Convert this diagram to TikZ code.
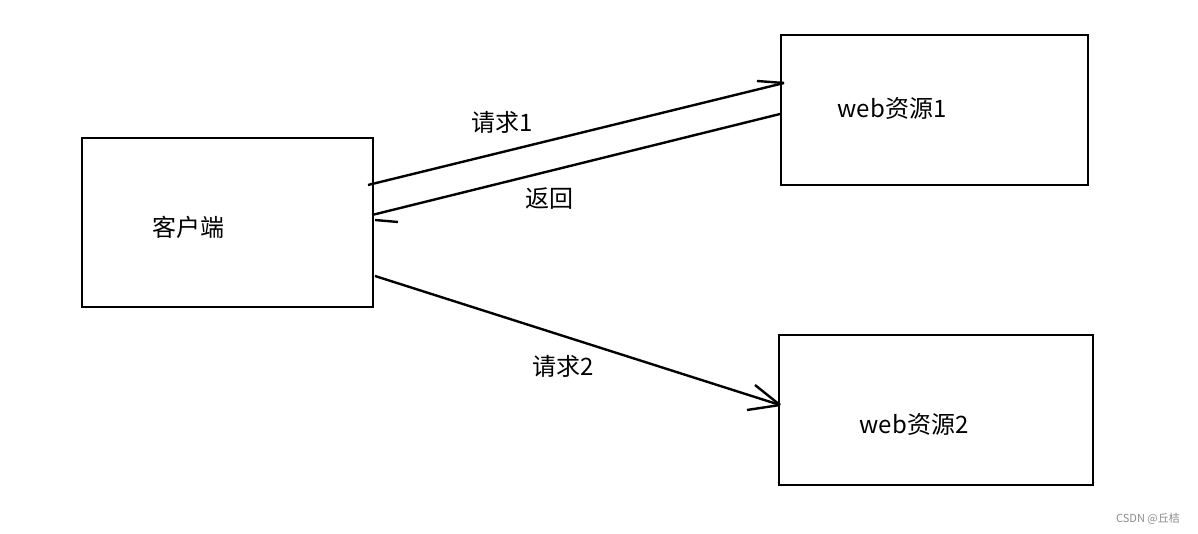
\documentclass[tikz,border=0pt]{standalone}
\usepackage{fontspec}
\newfontfamily\cjk{Noto Sans CJK SC}
\begin{document}
\begin{tikzpicture}[x=1pt,y=-1pt,
  box/.style={draw=black,line width=2.6pt},
  conn/.style={draw=black,line width=2.4pt},
  lbl/.style={font=\cjk\fontsize{24}{28}\selectfont,inner sep=0pt,text=black}]
\useasboundingbox[fill=white] (0,0) rectangle (1198,534);
% boxes
\draw[box] (82,138) rectangle (373,307);
\draw[box] (781,35) rectangle (1088,185);
\draw[box] (779,335) rectangle (1093,485);
% connector endpoints
\coordinate (c1) at (368,185);
\coordinate (w1a) at (784,83);
\coordinate (w1b) at (780,114);
\coordinate (c2) at (372,215);
\coordinate (c3) at (375,276);
\coordinate (w2) at (780,405);
% request 1
\draw[conn] (c1) -- (w1a);
\draw[conn] (w1a) -- ++(-27,-2);
% return
\draw[conn] (w1b) -- (c2);
\draw[conn] (c2) ++(3,5) -- ++(23,2);
% request 2
\draw[conn] (c3) -- (w2);
\draw[conn] (w2) -- ++(-25,-20);
\draw[conn] (w2) -- ++(-33,5);
% labels
\node[lbl] (l1) at (502,122) {请求1};
\node[lbl] (l2) at (549,199) {返回};
\node[lbl] (l3) at (563,366) {请求2};
\node[lbl] (t0) at (188,227) {客户端};
\node[lbl] (t1) at (892,108) {web资源1};
\node[lbl] (t2) at (914,424) {web资源2};
\node[font=\cjk\fontsize{11}{13}\selectfont,text=black!45,inner sep=0pt] (wm) at (1148,519) {CSDN @丘桔};
\end{tikzpicture}
\end{document}
